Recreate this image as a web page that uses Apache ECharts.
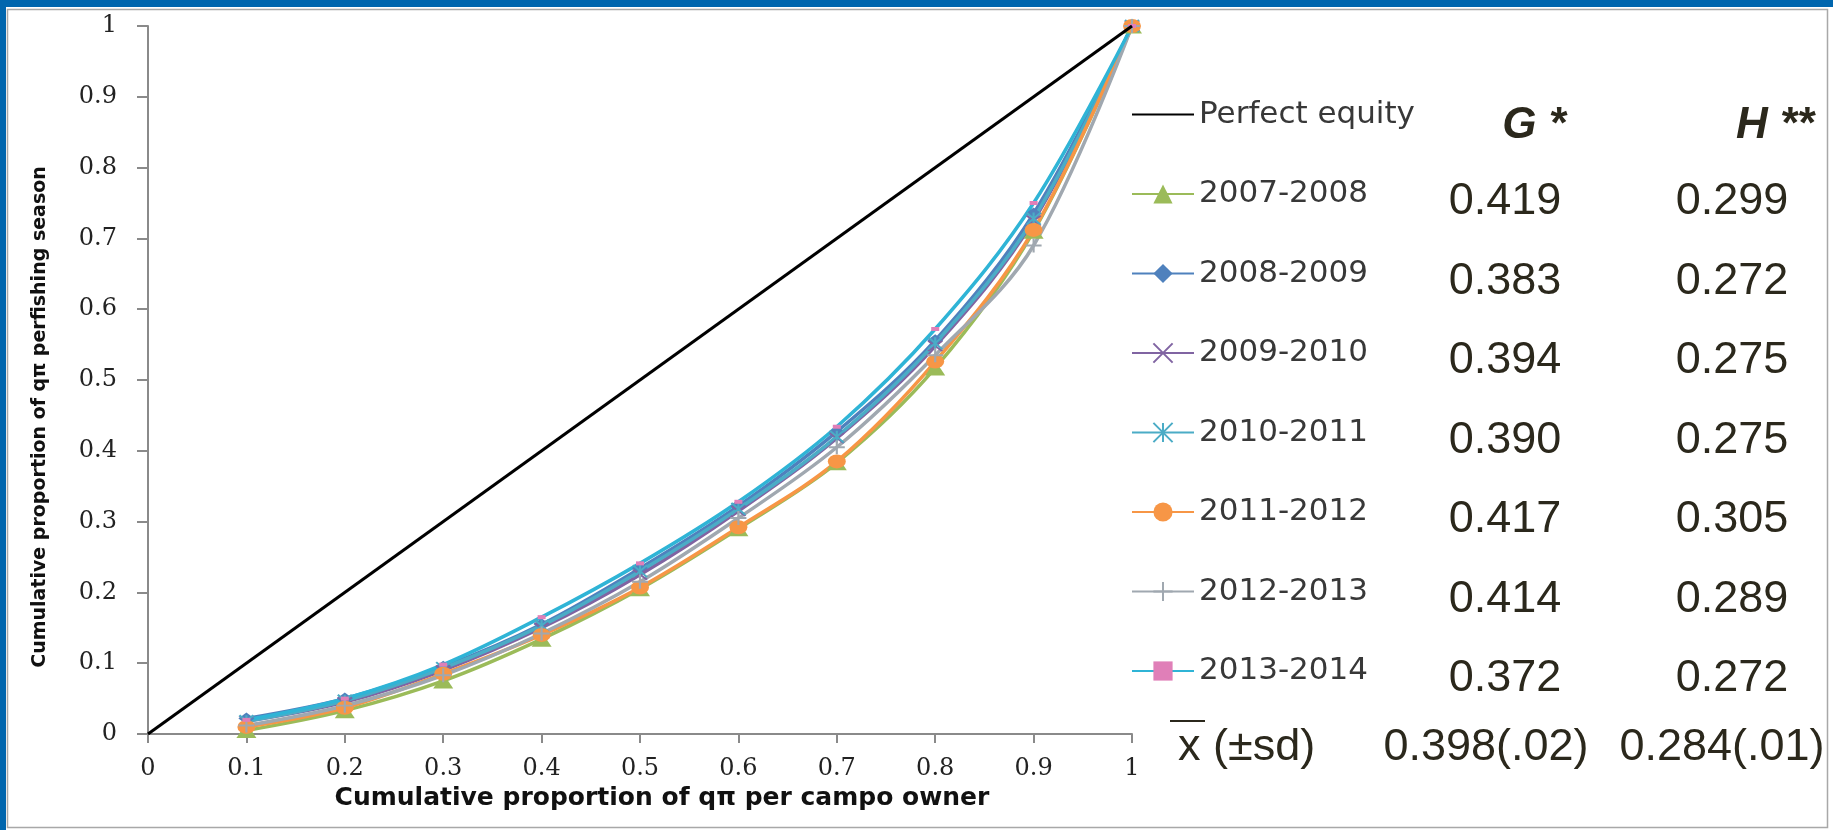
<!DOCTYPE html>
<html>
<head>
<meta charset="utf-8">
<script src="https://cdn.jsdelivr.net/npm/echarts@6/dist/echarts.min.js"></script>
<style>
  html, body { margin: 0; padding: 0; background: #fff; }
  #lorenz { width: 1833px; height: 830px; }
</style>
</head>
<body>
<div id="lorenz"></div>
<script>
// cumulative proportion of owners (x) and of qπ per season (y)
const xValues = [0.1, 0.2, 0.3, 0.4, 0.5, 0.6, 0.7, 0.8, 0.9, 1.0];
const equityX = [0, 1];
const equityY = [0, 1];

const seasons = ['2007-2008', '2008-2009', '2009-2010', '2010-2011', '2011-2012', '2012-2013', '2013-2014'];
const y0708 = [0.005, 0.033, 0.075, 0.134, 0.205, 0.290, 0.383, 0.517, 0.710, 1];
const y0809 = [0.022, 0.050, 0.095, 0.155, 0.234, 0.322, 0.427, 0.556, 0.735, 1];
const y0910 = [0.018, 0.045, 0.090, 0.150, 0.225, 0.315, 0.418, 0.548, 0.725, 1];
const y1011 = [0.018, 0.047, 0.093, 0.153, 0.230, 0.318, 0.420, 0.552, 0.728, 1];
const y1112 = [0.010, 0.037, 0.085, 0.140, 0.207, 0.292, 0.385, 0.526, 0.712, 1];
const y1213 = [0.012, 0.040, 0.083, 0.142, 0.215, 0.305, 0.405, 0.535, 0.690, 1];
const y1314 = [0.020, 0.050, 0.098, 0.165, 0.241, 0.328, 0.434, 0.572, 0.750, 1];

// Gini (G) and Hoover (H) per season, then the mean row
const gValues = ['0.419', '0.383', '0.394', '0.390', '0.417', '0.414', '0.372'];
const hValues = ['0.299', '0.272', '0.275', '0.275', '0.305', '0.289', '0.272'];
const meanValues = ['0.398(.02)', '0.284(.01)'];

const seasonValues = [y0708, y0809, y0910, y1011, y1112, y1213, y1314];
const seasonColors = ['#9bbb59', '#4f81bd', '#8064a2', '#4bacc6', '#f79646', '#a0a8b0', '#2fb4d6'];
const seasonSymbols = [
    'triangle',
    'diamond',
    'path://M0,0L10,10M10,0L0,10',
    'path://M0,0L10,10M10,0L0,10M5,0L5,10',
    'circle',
    'path://M5,0L5,10M0,5L10,5',
    'rect'
];
const seasonSymbolSizes = [[20, 15], [16, 12], [14, 10], [14, 12], [18, 14], [16, 14], [8, 4]];

var chart = echarts.init(document.getElementById('lorenz'));

const pairs = (xs, ys) => xs.map((x, i) => [x, ys[i]]);

let series = [{
    name: 'Perfect equity',
    type: 'line',
    data: pairs(equityX, equityY),
    symbol: 'none',
    lineStyle: {color: '#000', width: 3},
    itemStyle: {color: '#000'},
    z: 3
}];

seasons.forEach((season, i) => {
    const isPath = seasonSymbols[i].indexOf('path://') === 0;
    series = [...series, {
        name: season,
        type: 'line',
        data: pairs(xValues, seasonValues[i]),
        smooth: 0.35,
        symbol: seasonSymbols[i],
        symbolSize: seasonSymbolSizes[i],
        showAllSymbol: true,
        lineStyle: {color: seasonColors[i], width: 3.5},
        itemStyle: {
            color: i === 6 ? '#e07fb8' : seasonColors[i],
            borderColor: i === 6 ? '#e07fb8' : seasonColors[i],
            borderWidth: isPath ? 2 : 0
        },
        z: 2
    }];
});

// table at the right of the legend
const rowY = i => 202 + i * 79.5;
const tableFont = '45px "Liberation Sans", Arial, sans-serif';
const tableColor = '#2b281c';
let tableTexts = [];
gValues.forEach((g, i) => {
    tableTexts = [...tableTexts,
        {type: 'text', x: 1505, y: rowY(i), style: {text: g, font: tableFont, fill: tableColor, align: 'center', verticalAlign: 'middle'}},
        {type: 'text', x: 1732, y: rowY(i), style: {text: hValues[i], font: tableFont, fill: tableColor, align: 'center', verticalAlign: 'middle'}}
    ];
});

option = {
    backgroundColor: '#fff',
    animation: false,
    grid: {left: 148, right: 701, top: 26, bottom: 96, containLabel: false},
    xAxis: {
        type: 'value',
        min: 0,
        max: 1,
        interval: 0.1,
        name: 'Cumulative proportion of q\u03c0 per campo owner',
        nameLocation: 'middle',
        nameGap: 42,
        nameTextStyle: {
            fontFamily: 'DejaVu Sans',
            fontWeight: 'bold',
            fontSize: 25,
            color: '#111',
            padding: [0, 0, 0, 44]
        },
        axisLine: {lineStyle: {color: '#8a8a8a', width: 2}},
        axisTick: {show: true, inside: false, length: 9, lineStyle: {color: '#8a8a8a', width: 2}},
        axisLabel: {
            margin: 23,
            fontFamily: 'DejaVu Serif',
            fontSize: 24,
            color: '#222'
        },
        splitLine: {show: false}
    },
    yAxis: {
        type: 'value',
        min: 0,
        max: 1,
        interval: 0.1,
        name: 'Cumulative proportion of q\u03c0 perfishing season',
        nameLocation: 'middle',
        nameGap: 98,
        nameRotate: 90,
        nameTextStyle: {
            fontFamily: 'DejaVu Sans',
            fontWeight: 'bold',
            fontSize: 19,
            color: '#111',
            padding: [0, 74, 0, 0]
        },
        axisLine: {show: true, lineStyle: {color: '#8a8a8a', width: 2}},
        axisTick: {show: true, inside: false, length: 11, lineStyle: {color: '#8a8a8a', width: 2}},
        axisLabel: {
            margin: 31,
            fontFamily: 'DejaVu Serif',
            fontSize: 24,
            color: '#222'
        },
        splitLine: {show: false}
    },
    legend: {
        orient: 'vertical',
        left: 1126,
        top: 94,
        itemWidth: 62,
        itemHeight: 24,
        itemGap: 48.5,
        textStyle: {fontFamily: 'DejaVu Sans', fontSize: 31, color: '#383838'},
        data: [
            {name: 'Perfect equity', icon: 'path://M0,0L62,0L62,2L0,2Z', itemStyle: {color: '#000'}},
            ...seasons
        ]
    },
    graphic: [
        // frame: blue strips and the grey panel border
        {type: 'rect', shape: {x: 0, y: 0, width: 1833, height: 7}, style: {fill: '#0066ae'}, silent: true, z: -10},
        {type: 'rect', shape: {x: 0, y: 0, width: 6, height: 830}, style: {fill: '#0066ae'}, silent: true, z: -10},
        {type: 'rect', shape: {x: 7.5, y: 9.5, width: 1820, height: 818}, style: {fill: 'none', stroke: '#a8a8a8', lineWidth: 1.5}, silent: true, z: -9},
        // headers
        {type: 'text', x: 1534, y: 126, style: {text: 'G *', font: 'italic bold 44px "Liberation Sans", Arial, sans-serif', fill: tableColor, align: 'center', verticalAlign: 'middle'}},
        {type: 'text', x: 1775, y: 126, style: {text: 'H **', font: 'italic bold 44px "Liberation Sans", Arial, sans-serif', fill: tableColor, align: 'center', verticalAlign: 'middle'}},
        ...tableTexts,
        // mean row
        {type: 'text', x: 1178, y: 748, style: {text: 'x (\u00b1sd)', font: tableFont, fill: tableColor, align: 'left', verticalAlign: 'middle'}},
        {type: 'line', shape: {x1: 1170, y1: 721, x2: 1205, y2: 721}, style: {stroke: tableColor, lineWidth: 2}},
        {type: 'text', x: 1486, y: 748, style: {text: meanValues[0], font: tableFont, fill: tableColor, align: 'center', verticalAlign: 'middle'}},
        {type: 'text', x: 1722, y: 748, style: {text: meanValues[1], font: tableFont, fill: tableColor, align: 'center', verticalAlign: 'middle'}}
    ],
    series: series
};

chart.setOption(option);
</script>
</body>
</html>
